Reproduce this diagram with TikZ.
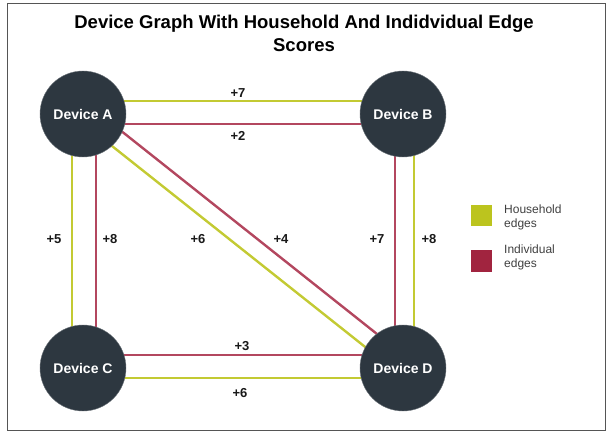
\documentclass[tikz,border=0pt]{standalone}
\usepackage{fontspec}
\setmainfont{Liberation Sans}
\usetikzlibrary{backgrounds}
\definecolor{hh}{HTML}{C3CA33}
\definecolor{ind}{HTML}{B3475F}
\definecolor{hhbox}{HTML}{BCC41E}
\definecolor{indbox}{HTML}{A1243F}
\definecolor{dev}{HTML}{2D3740}
\definecolor{frame}{HTML}{555555}
\tikzset{
  device/.style={circle,fill=dev,draw=dev!70,line width=0.4pt,minimum size=86pt,inner sep=0pt,text=white,font=\bfseries\fontsize{14}{16}\selectfont},
  hhedge/.style={draw=hh,line width=2.4pt},
  indedge/.style={draw=ind,line width=2.4pt},
  score/.style={font=\bfseries\fontsize{13}{15}\selectfont,text=black!90},
  legbox/.style={minimum width=21pt,minimum height=21pt,inner sep=0pt},
  legtext/.style={align=left,anchor=west,font=\fontsize{12}{14}\selectfont,text=black!75,inner sep=0pt},
}
\begin{document}
\begin{tikzpicture}[x=1pt,y=-1pt]
\useasboundingbox (0,0) rectangle (612,435);
\draw[frame,line width=1pt] (7,4) rectangle (605,430);
\node[font=\bfseries\fontsize{18.5}{23}\selectfont,align=center] (title) at (304,33) {Device Graph With Household And Indidvidual Edge\\Scores};
\node[device] (A) at (83,114) {Device A};
\node[device] (B) at (403,114) {Device B};
\node[device] (C) at (83,368) {Device C};
\node[device] (D) at (403,368) {Device D};
\begin{scope}[on background layer]
\draw[hhedge] ([yshift=13pt]A.center) -- ([yshift=13pt]B.center);
\draw[indedge] ([yshift=-10pt]A.center) -- ([yshift=-10pt]B.center);
\draw[hhedge] ([xshift=-11pt]A.center) -- ([xshift=-11pt]C.center);
\draw[indedge] ([xshift=13pt]A.center) -- ([xshift=13pt]C.center);
\draw[indedge] ([xshift=-8pt]B.center) -- ([xshift=-8pt]D.center);
\draw[hhedge] ([xshift=11pt]B.center) -- ([xshift=11pt]D.center);
\draw[indedge] ([yshift=13pt]C.center) -- ([yshift=13pt]D.center);
\draw[hhedge] ([yshift=-10pt]C.center) -- ([yshift=-10pt]D.center);
\draw[hhedge] ([xshift=-4.4pt,yshift=-5.5pt]A.center) -- ([xshift=-4.4pt,yshift=-5.5pt]D.center);
\draw[indedge] ([xshift=6.5pt,yshift=8.2pt]A.center) -- ([xshift=6.5pt,yshift=8.2pt]D.center);
\end{scope}
\node[score] (l1) at (238,93) {+7};
\node[score] (l2) at (238,136) {+2};
\node[score] (l3) at (54,239) {+5};
\node[score] (l4) at (110,239) {+8};
\node[score] (l5) at (198,239) {+6};
\node[score] (l6) at (281,239) {+4};
\node[score] (l7) at (377,239) {+7};
\node[score] (l8) at (429,239) {+8};
\node[score] (l9) at (242,346) {+3};
\node[score] (l10) at (240,393) {+6};
\node[legbox,fill=hhbox] (k1) at (481,216) {};
\node[legbox,fill=indbox] (k2) at (481,261) {};
\node[legtext] (t1) at (504,217) {Household\\edges};
\node[legtext] (t2) at (504,257) {Individual\\edges};
\end{tikzpicture}
\end{document}
